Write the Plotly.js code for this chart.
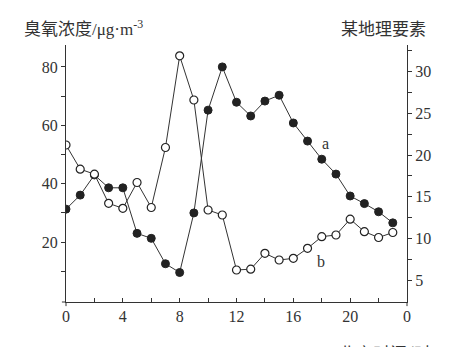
<!DOCTYPE html>
<html>
<head>
<meta charset="utf-8">
<script src="https://cdn.plot.ly/plotly-3.0.1.min.js"></script>
<style>html,body{margin:0;padding:0;background:#fff;}#chart{width:455px;height:347px;}</style>
</head>
<body>
<div id="chart"></div>
<script>
// Hours (北京时间)
const hours = [0,1,2,3,4,5,6,7,8,9,10,11,12,13,14,15,16,17,18,19,20,21,22,23];
// Series a: 臭氧浓度 (μg·m⁻³), left axis
const seriesA = [31.3,36.1,43.0,38.6,38.6,23.0,21.3,12.6,9.6,30.0,65.2,80.0,67.9,63.2,68.3,70.3,60.8,54.6,48.4,43.3,35.8,33.2,30.4,26.6];
// Series b: 某地理要素, right axis
const seriesB = [21.2,18.3,17.7,14.2,13.6,16.7,13.7,20.9,31.9,26.6,13.4,12.8,6.2,6.3,8.2,7.4,7.6,8.8,10.2,10.4,12.3,10.8,10.1,10.7];
// Tick definitions
const xTickVals = [0,2,4,6,8,10,12,14,16,18,20,22,24];
const xTickText = ['0',' ','4',' ','8',' ','12',' ','16',' ','20',' ','0'];
const yLeftTickVals = [10,20,30,40,50,60,70,80];
const yLeftTickText = [' ','20',' ','40',' ','60',' ','80'];
const yRightTickVals = [5,7.5,10,12.5,15,17.5,20,22.5,25,27.5,30,32.5];
const yRightTickText = ['5',' ','10',' ','15',' ','20',' ','25',' ','30',' '];

const ink = '#333';
const serif = 'Liberation Serif, Times New Roman, serif';
const cjk = 'Noto Sans CJK SC, sans-serif';

const traceA = {
  x: hours, y: seriesA, type: 'scatter', mode: 'lines+markers', yaxis: 'y',
  line: {color: ink, width: 1},
  marker: {size: 8, color: '#222', line: {color: '#222', width: 1}},
  hoverinfo: 'none', showlegend: false
};
const traceB = {
  x: hours, y: seriesB, type: 'scatter', mode: 'lines+markers', yaxis: 'y2',
  line: {color: ink, width: 1},
  marker: {size: 8, color: '#fff', line: {color: '#222', width: 1.2}},
  hoverinfo: 'none', showlegend: false
};

const layout = {
  width: 455, height: 347,
  margin: {l: 66, r: 48, t: 45, b: 45},
  paper_bgcolor: '#fff', plot_bgcolor: '#fff',
  font: {family: serif, color: ink, size: 16},
  xaxis: {
    range: [0, 24], tickvals: xTickVals, ticktext: xTickText,
    showline: true, linecolor: ink, linewidth: 1,
    ticks: 'inside', ticklen: 4, tickcolor: ink,
    showgrid: false, zeroline: false,
    tickfont: {family: serif, size: 16, color: ink}
  },
  yaxis: {
    range: [-0.5, 87.5], tickvals: yLeftTickVals, ticktext: yLeftTickText,
    showline: true, linecolor: ink, linewidth: 1,
    ticks: 'outside', ticklen: 4, tickcolor: ink,
    showgrid: false, zeroline: false,
    tickfont: {family: serif, size: 16, color: ink}
  },
  yaxis2: {
    range: [2.36, 33.2], overlaying: 'y', side: 'right',
    tickvals: yRightTickVals, ticktext: yRightTickText,
    showline: true, linecolor: ink, linewidth: 1,
    ticks: 'outside', ticklen: 4, tickcolor: ink,
    showgrid: false, zeroline: false,
    tickfont: {family: serif, size: 16, color: ink}
  },
  shapes: [
    {type: 'line', xref: 'paper', yref: 'paper', x0: 0, x1: 0, y0: 0, y1: -0.016, line: {color: ink, width: 1}},
    {type: 'line', xref: 'paper', yref: 'paper', x0: 1, x1: 1, y0: 0, y1: -0.016, line: {color: ink, width: 1}},
    {type: 'line', xref: 'paper', yref: 'paper', x0: -0.012, x1: 0, y0: 0, y1: 0, line: {color: ink, width: 1}}
  ],
  annotations: [
    {xref: 'paper', yref: 'paper', x: -0.129, y: 1.07, xanchor: 'left', yanchor: 'middle', showarrow: false,
     text: '<span style="font-family:Noto Sans CJK SC">臭氧浓度</span>/μg·m<sup>-3</sup>',
     font: {family: serif, size: 17, color: ink}},
    {xref: 'paper', yref: 'paper', x: 0.80, y: 1.07, xanchor: 'left', yanchor: 'middle', showarrow: false,
     text: '某地理要素', font: {family: cjk, size: 17, color: ink}},
    {xref: 'paper', yref: 'paper', x: 0.795, y: -0.14, xanchor: 'left', yanchor: 'top', showarrow: false,
     text: '北京时间/时', font: {family: cjk, size: 17, color: ink}},
    {xref: 'x', yref: 'y', x: 18.25, y: 53.8, showarrow: false, text: 'a',
     font: {family: serif, size: 16, color: ink}},
    {xref: 'x', yref: 'y2', x: 17.95, y: 7.2, showarrow: false, text: 'b',
     font: {family: serif, size: 16, color: ink}}
  ]
};

Plotly.newPlot('chart', [traceA, traceB], layout, {displayModeBar: false, staticPlot: true});
</script>
</body>
</html>
